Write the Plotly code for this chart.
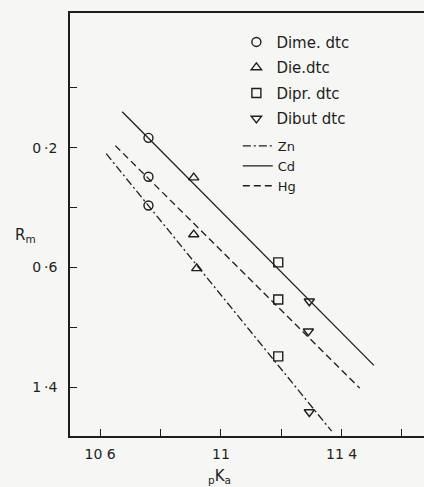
import plotly.graph_objects as go

# ---- data ----
pka_dime = [10.76, 10.76, 10.76]
rm_dime = [0.167, 0.297, 0.393]
pka_die = [10.91, 10.91, 10.92]
rm_die = [0.300, 0.490, 0.603]
pka_dipr = [11.19, 11.19, 11.19]
rm_dipr = [0.583, 0.707, 0.897]
pka_dibut = [11.293, 11.29, 11.293]
rm_dibut = [0.713, 0.813, 1.083]

cd_x = [10.673, 11.507]
cd_y = [0.080, 0.927]
hg_x = [10.650, 11.460]
hg_y = [0.193, 1.003]
zn_x = [10.620, 11.367]
zn_y = [0.220, 1.147]

x_tickvals = [10.6, 10.8, 11.0, 11.2, 11.4, 11.6]
x_ticktext = ["10 6", "", "11", "", "11 4", ""]
y_tickvals = [0.0, 0.2, 0.4, 0.6, 0.8, 1.0]
y_ticktext = ["", "0\u2009·2", "", "0\u2009·6", "", "1\u2009·4"]

INK = "#1e1e1e"
BG = "#f6f6f4"
FONT = "DejaVu Sans"

fig = go.Figure()

def mtrace(x, y, name, sym, grp):
    fig.add_trace(go.Scatter(
        x=x, y=y, mode="markers", name=name, legend="legend", legendgroup=grp,
        marker=dict(symbol=sym, size=9, color=INK, line=dict(color=INK, width=1.4)),
    ))

def ltrace(x, y, name, dash):
    fig.add_trace(go.Scatter(
        x=x, y=y, mode="lines", name=name, legend="legend2",
        line=dict(color=INK, width=1.3, dash=dash),
    ))

ltrace(zn_x, zn_y, "Zn", "8px,3px,2px,3px")
ltrace(cd_x, cd_y, "Cd", "solid")
ltrace(hg_x, hg_y, "Hg", "7px,4px")

mtrace(pka_dime, rm_dime, "Dime. dtc", "circle-open", "a")
mtrace(pka_die, rm_die, "Die.dtc", "triangle-up-open", "b")
mtrace(pka_dipr, rm_dipr, "Dipr. dtc", "square-open", "c")
mtrace(pka_dibut, rm_dibut, "Dibut dtc", "triangle-down-open", "d")

axis_common = dict(
    showgrid=False, zeroline=False, showline=True, linecolor=INK, linewidth=1.6,
    ticks="inside", ticklen=7, tickwidth=1.4, tickcolor=INK,
    tickfont=dict(family=FONT, size=14, color=INK),
)

fig.update_layout(
    width=424, height=487,
    margin=dict(l=70, r=0, t=13, b=51),
    paper_bgcolor=BG, plot_bgcolor=BG,
    font=dict(family=FONT, size=14, color=INK),
    xaxis=dict(range=[10.5, 11.673], tickvals=x_tickvals, ticktext=x_ticktext,
               mirror=True, ticklabelstandoff=4, **axis_common),
    yaxis=dict(range=[1.163, -0.25], tickvals=y_tickvals, ticktext=y_ticktext,
               ticklabelstandoff=8, **axis_common),
    legend=dict(x=0.47, y=0.97, xanchor="left", yanchor="top",
                bgcolor="rgba(0,0,0,0)", tracegroupgap=3,
                font=dict(family=FONT, size=15, color=INK)),
    legend2=dict(x=0.474, y=0.721, xanchor="left", yanchor="top",
                 bgcolor="rgba(0,0,0,0)", itemwidth=30,
                 font=dict(family=FONT, size=13, color=INK)),
    showlegend=True,
    annotations=[
        dict(text="R<sub>m</sub>", x=-0.16, y=0.475, xref="paper", yref="paper",
             showarrow=False, font=dict(family=FONT, size=15, color=INK)),
        dict(text="<sub>p</sub>K<sub>a</sub>", x=0.4237, y=-0.122, xref="paper", yref="paper",
             showarrow=False, font=dict(family=FONT, size=15, color=INK)),
    ],
)

fig.write_html("out.html")
